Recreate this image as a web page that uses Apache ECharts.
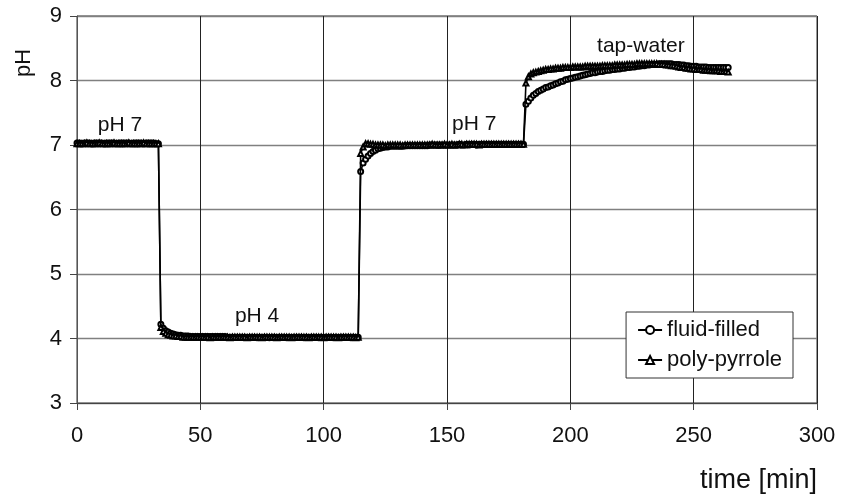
<!DOCTYPE html>
<html>
<head>
<meta charset="utf-8">
<script src="https://cdn.jsdelivr.net/npm/echarts@6/dist/echarts.min.js"></script>
<style>html,body{margin:0;padding:0;background:#fff}#c{width:854px;height:496px}</style>
</head>
<body>
<div id="c"></div>
<script>
// sampling interval of the measurements, minutes (sample i is at i * sampleStep)
const sampleStep = 1;

// pH readings, fluid-filled electrode (one per minute, 0 .. 264 min)
const fluidFilled = [
  7.03,7.03,7.02,7.03,7.03,7.03,7.02,7.03,7.03,7.03,
  7.03,7.02,7.03,7.03,7.03,7.03,7.02,7.03,7.03,7.03,
  7.03,7.03,7.02,7.03,7.03,7.03,7.03,7.02,7.03,7.03,
  7.03,7.03,7.02,7.02,
  4.22,4.16,4.12,4.10,4.08,4.07,
  4.06,4.05,4.05,4.04,4.04,4.04,4.03,4.03,4.03,4.03,
  4.03,4.03,4.03,4.03,4.03,4.03,4.03,4.03,4.03,4.03,
  4.03,4.02,4.02,4.02,4.02,4.02,4.02,4.02,4.02,4.02,
  4.02,4.02,4.02,4.01,4.02,4.02,4.02,4.02,4.01,4.02,
  4.02,4.02,4.02,4.02,4.02,4.01,4.02,4.02,4.02,4.02,
  4.02,4.02,4.01,4.02,4.02,4.02,4.02,4.02,4.01,4.02,
  4.02,4.02,4.02,4.02,4.01,4.02,4.02,4.02,4.02,4.02,
  4.02,4.01,4.02,4.02,4.02,
  6.59,6.72,6.78,6.83,6.87,
  6.90,6.92,6.94,6.95,6.96,6.97,6.97,6.98,6.98,6.98,
  6.98,6.98,6.98,6.99,6.99,6.99,6.99,6.99,6.99,6.99,
  6.99,6.99,6.99,7.00,7.00,7.00,7.00,7.00,7.00,7.00,
  7.00,7.00,7.00,7.00,7.00,7.01,7.00,7.00,7.01,7.00,
  7.01,7.01,7.00,7.01,7.01,7.01,7.01,7.01,7.01,7.01,
  7.01,7.01,7.01,7.01,7.01,7.01,7.01,7.01,7.01,7.01,
  7.01,7.01,
  7.63,7.68,7.73,7.77,7.80,7.83,7.85,7.87,
  7.89,7.90,7.92,7.93,7.95,7.96,7.98,7.99,8.01,8.02,
  8.03,8.04,8.05,8.06,8.07,8.08,8.09,8.10,8.11,8.12,
  8.12,8.13,8.14,8.14,8.15,8.16,8.16,8.17,8.17,8.18,
  8.18,8.19,8.19,8.20,8.20,8.21,8.21,8.22,8.22,8.23,
  8.23,8.24,8.24,8.25,8.25,8.25,8.26,8.26,8.26,8.26,
  8.26,8.26,8.25,8.25,8.25,8.24,8.24,8.23,8.23,8.22,
  8.22,8.22,8.21,8.21,8.21,8.21,8.20,8.20,8.20,8.20,
  8.20,8.20,8.20,8.20,8.20
];

// pH readings, poly-pyrrole electrode (one per minute, 0 .. 264 min)
const polyPyrrole = [
  7.02,7.02,7.02,7.02,7.03,7.02,7.02,7.02,7.02,7.03,
  7.02,7.02,7.02,7.02,7.02,7.03,7.02,7.02,7.02,7.02,
  7.02,7.03,7.02,7.02,7.02,7.02,7.02,7.03,7.02,7.02,
  7.02,7.02,7.02,7.02,
  4.17,4.11,4.08,4.06,4.05,4.04,
  4.04,4.03,4.03,4.02,4.02,4.02,4.02,4.02,4.02,4.02,
  4.02,4.02,4.02,4.02,4.01,4.02,4.02,4.02,4.02,4.02,
  4.02,4.02,4.01,4.02,4.02,4.02,4.02,4.02,4.02,4.01,
  4.02,4.02,4.02,4.02,4.02,4.01,4.02,4.02,4.02,4.02,
  4.02,4.01,4.02,4.02,4.02,4.02,4.02,4.01,4.02,4.02,
  4.02,4.02,4.02,4.02,4.01,4.02,4.02,4.02,4.02,4.02,
  4.01,4.02,4.02,4.02,4.02,4.02,4.01,4.02,4.02,4.02,
  4.02,4.02,4.02,4.01,4.02,
  6.87,6.97,7.02,7.02,7.01,
  7.01,7.00,7.00,7.00,7.00,6.99,7.00,7.00,7.00,7.00,
  7.00,7.00,6.99,7.00,7.00,7.00,7.00,7.00,7.00,7.00,
  7.00,7.00,7.00,7.00,7.01,7.00,7.00,7.00,7.00,7.01,
  7.00,7.00,7.01,7.00,7.00,7.01,7.01,7.00,7.01,7.01,
  7.01,7.01,7.01,7.00,7.01,7.01,7.01,7.01,7.01,7.01,
  7.01,7.01,7.01,7.01,7.01,7.01,7.01,7.01,7.01,7.01,
  7.01,7.01,
  7.96,8.06,8.10,8.12,8.13,8.14,8.15,8.16,
  8.17,8.17,8.18,8.18,8.19,8.19,8.19,8.20,8.20,8.20,
  8.20,8.21,8.21,8.21,8.21,8.21,8.22,8.22,8.22,8.22,
  8.22,8.22,8.22,8.23,8.23,8.23,8.23,8.23,8.24,8.24,
  8.24,8.24,8.24,8.25,8.25,8.25,8.25,8.26,8.26,8.26,
  8.26,8.26,8.26,8.26,8.26,8.26,8.25,8.25,8.25,8.24,
  8.24,8.23,8.23,8.22,8.21,8.20,8.20,8.19,8.19,8.18,
  8.18,8.17,8.17,8.17,8.16,8.16,8.16,8.15,8.15,8.15,
  8.15,8.14,8.14,8.14,8.13
];

// in-plot annotations: [time, pH, text]
const annotations = [
  [17.4, 7.31, 'pH 7'],
  [73, 4.34, 'pH 4'],
  [161, 7.32, 'pH 7'],
  [228.6, 8.53, 'tap-water']
];

const seriesNames = ['fluid-filled', 'poly-pyrrole'];
const xAxisRange = [0, 300, 50];
const yAxisRange = [3, 9, 1];

const toPairs = arr => arr.map((v, i) => [i * sampleStep, v]);

const FONT = '"Liberation Sans", Arial, sans-serif';
const TXT = '#111';

const chart = echarts.init(document.getElementById('c'), null, {renderer: 'canvas'});
chart.setOption({
  animation: false,
  backgroundColor: '#fff',
  textStyle: {fontFamily: FONT},
  grid: {left: 77, right: 37, top: 16, bottom: 93, show: true, borderColor: '#333', borderWidth: 1, containLabel: false},
  xAxis: {
    type: 'value', min: xAxisRange[0], max: xAxisRange[1], interval: xAxisRange[2],
    axisLine: {show: true, lineStyle: {color: '#444', width: 1}},
    axisTick: {show: true, length: 7, lineStyle: {color: '#444'}},
    axisLabel: {fontSize: 22, color: TXT, margin: 22, fontFamily: FONT},
    splitLine: {show: true, lineStyle: {color: '#222', width: 1}}
  },
  yAxis: {
    type: 'value', min: yAxisRange[0], max: yAxisRange[1], interval: yAxisRange[2],
    axisLine: {show: true, lineStyle: {color: '#555', width: 1}},
    axisTick: {show: true, length: 7, lineStyle: {color: '#444'}},
    axisLabel: {fontSize: 22, color: TXT, margin: 15, fontFamily: FONT},
    splitLine: {show: true, lineStyle: {color: '#808080', width: 1.3}}
  },
  legend: {
    data: seriesNames,
    orient: 'vertical',
    right: 61, bottom: 118,
    padding: [7, 11, 7, 11],
    itemGap: 8,
    itemWidth: 24, itemHeight: 10,
    backgroundColor: '#fff',
    borderColor: '#333', borderWidth: 1, borderRadius: 0,
    textStyle: {fontSize: 22, color: TXT, fontFamily: FONT}
  },
  series: [
    {
      name: seriesNames[0], type: 'line', data: toPairs(fluidFilled),
      symbol: 'emptyCircle', symbolSize: 5,
      itemStyle: {color: '#000', borderWidth: 0.8},
      lineStyle: {color: '#000', width: 1.6}, z: 3
    },
    {
      name: seriesNames[1], type: 'line', data: toPairs(polyPyrrole),
      symbol: 'emptyTriangle', symbolSize: 5,
      itemStyle: {color: '#000', borderWidth: 0.8},
      lineStyle: {color: '#000', width: 1.6}, z: 4
    }
  ]
});

// axis titles plus annotation texts (annotations placed through the chart's own scales)
const titleGraphics = [
  {type: 'text', id: 'ytitle', x: 24, y: 63, rotation: Math.PI / 2,
   style: {text: 'pH', fontSize: 22, fill: TXT, fontFamily: FONT, textAlign: 'center', textVerticalAlign: 'middle'}},
  {type: 'text', id: 'xtitle', x: 817, y: 481,
   style: {text: 'time [min]', fontSize: 27, fill: TXT, fontFamily: FONT, textAlign: 'right', textVerticalAlign: 'middle'}}
];
const noteGraphics = annotations.map((a, i) => {
  const p = chart.convertToPixel({gridIndex: 0}, [a[0], a[1]]);
  return {type: 'text', id: 'note' + i, x: p[0], y: p[1], z: 10,
    style: {text: a[2], fontSize: 21, fill: TXT, fontFamily: FONT, textAlign: 'center', textVerticalAlign: 'middle'}};
});
chart.setOption({graphic: titleGraphics.concat(noteGraphics)});
</script>
</body>
</html>
